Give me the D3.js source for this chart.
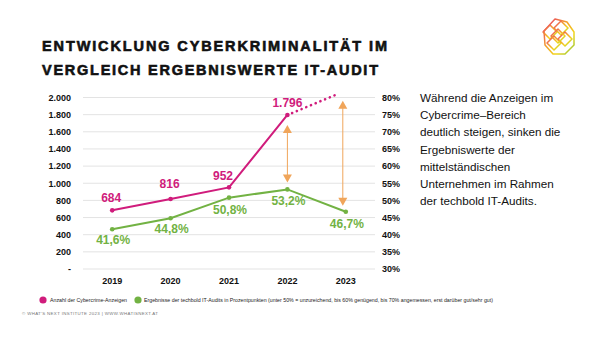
<!DOCTYPE html>
<html><head><meta charset="utf-8">
<script src="https://cdn.jsdelivr.net/npm/d3@7"></script>
<style>body{margin:0;background:#fff}svg{display:block;font-family:"Liberation Sans",Arial,sans-serif}</style>
</head><body><svg id="c" width="600" height="338"></svg>
<script>
const years = ["2019","2020","2021","2022","2023"];
const anzeigen = [684, 816, 952, 1796];
const anzeigenProjection = 2080;
const auditPct = [41.6, 44.8, 50.8, 53.2, 46.7];
const leftTicks = [0,200,400,600,800,1000,1200,1400,1600,1800,2000];
const rightTicks = [30,35,40,45,50,55,60,65,70,75,80];
const titleLines = ["ENTWICKLUNG CYBERKRIMINALITÄT IM","VERGLEICH ERGEBNISWERTE IT-AUDIT"];
const sideText = ["Während die Anzeigen im","Cybercrime–Bereich","deutlich steigen, sinken die","Ergebniswerte der","mittelständischen","Unternehmen im Rahmen","der techbold IT-Audits."];
const legendItems = ["Anzahl der Cybercrime-Anzeigen","Ergebnisse der techbold IT-Audits in Prozentpunkten (unter 50% = unzureichend, bis 60% genügend, bis 70% angemessen, erst darüber gut/sehr gut)"];
const footer = "© WHAT'S NEXT INSTITUTE 2023 | WWW.WHATISNEXT.AT";

const PINK="#d01c7c", GREEN="#72b243", ORANGE="#f0a55a";
const svg=d3.select("#c");
const loc=d3.formatLocale({decimal:",",thousands:".",grouping:[3],currency:["","€"]});
const fmtN=v=>v===0?"-":loc.format(",")(v);
const fmtP=loc.format(".1f");

const x=d3.scaleBand().domain(years).range([83,375]);
const xc=d=>x(d)+x.bandwidth()/2;
const yL=d3.scaleLinear().domain([0,2000]).range([269,97.5]);
const yR=d3.scaleLinear().domain([30,80]).range([269,97.5]);

// title
svg.append("g").selectAll("text").data(titleLines).join("text")
 .attr("x",42).attr("y",(d,i)=>51+i*23.5)
 .attr("textLength",(d,i)=>i?336:345).attr("lengthAdjust","spacing")
 .attr("font-size",14.5).attr("font-weight","bold").attr("fill","#111")
 .attr("stroke","#111").attr("stroke-width",0.6).text(d=>d);

// logo
const defs=svg.append("defs");
const gr=defs.append("linearGradient").attr("id","lg").attr("x1","0").attr("y1","0").attr("x2","1").attr("y2","1");
[["0","#e8337a"],["0.4","#f39a2b"],["0.7","#f2d51c"],["1","#8cc63f"]].forEach(s=>gr.append("stop").attr("offset",s[0]).attr("stop-color",s[1]));
const logo=svg.append("g").attr("transform","translate(559,37)").attr("fill","none").attr("stroke","url(#lg)").attr("stroke-width",1.5).attr("stroke-linejoin","round");
logo.append("path").attr("d","M-4,-18L8,-15L15,-5L15,8L6,17L-6,17L-14,8L-15,-6Z");
[[-9,-5],[2,-9],[-5,6],[6,2],[-1,-1]].forEach(p=>{
  logo.append("path").attr("d",`M${p[0]},${p[1]-7}L${p[0]+7},${p[1]}L${p[0]},${p[1]+7}L${p[0]-7},${p[1]}Z`);
});

// grid
svg.append("g").selectAll("line").data(leftTicks).join("line")
 .attr("x1",83).attr("x2",375).attr("y1",d=>yL(d)).attr("y2",d=>yL(d))
 .attr("stroke","#e3e3e3").attr("stroke-width",1);

// axes
const axL=svg.append("g").attr("transform","translate(71,0)")
 .call(d3.axisLeft(yL).tickValues(leftTicks).tickFormat(fmtN).tickSize(0).tickPadding(0));
const axR=svg.append("g").attr("transform","translate(382,0)")
 .call(d3.axisRight(yR).tickValues(rightTicks).tickFormat(d=>d+"%").tickSize(0).tickPadding(0));
const axX=svg.append("g").attr("transform","translate(0,276)")
 .call(d3.axisBottom(x).tickSize(0).tickPadding(0));
[axL,axR,axX].forEach(a=>{a.select(".domain").remove();
 a.selectAll("text").attr("font-family","Liberation Sans, Arial").attr("font-weight","bold").attr("font-size",9).attr("fill","#111");});
axX.selectAll("text").attr("dy","0.9em");

// lines
const lineL=d3.line().x((d,i)=>xc(years[i])).y(d=>yL(d));
const lineR=d3.line().x((d,i)=>xc(years[i])).y(d=>yR(d));
svg.append("path").attr("d",lineR(auditPct)).attr("fill","none").attr("stroke",GREEN).attr("stroke-width",2);
svg.append("path").attr("d",lineL(anzeigen)).attr("fill","none").attr("stroke",PINK).attr("stroke-width",2);
// projection dotted
const p0=[xc("2022"),yL(anzeigen[3])], p1=[xc("2023"),yL(anzeigenProjection)];
const t=0.88;
svg.append("path").attr("d",d3.line()([p0,[p0[0]+(p1[0]-p0[0])*t,p0[1]+(p1[1]-p0[1])*t]]))
 .attr("fill","none").attr("stroke",PINK).attr("stroke-width",2.6).attr("stroke-dasharray","0.1,5").attr("stroke-linecap","round");
svg.append("g").selectAll("circle").data(auditPct).join("circle")
 .attr("cx",(d,i)=>xc(years[i])).attr("cy",d=>yR(d)).attr("r",2.3).attr("fill",GREEN);
svg.append("g").selectAll("circle").data(anzeigen).join("circle")
 .attr("cx",(d,i)=>xc(years[i])).attr("cy",d=>yL(d)).attr("r",2.3).attr("fill",PINK);

// value labels
const pinkOff=[[-1,-8],[-1,-11],[-6,-7],[0,-8]];
svg.append("g").selectAll("text").data(anzeigen).join("text")
 .attr("x",(d,i)=>xc(years[i])+pinkOff[i][0]).attr("y",(d,i)=>yL(d)+pinkOff[i][1])
 .attr("text-anchor","middle").attr("font-size",12).attr("font-weight","bold").attr("fill",PINK).text(fmtN);
const greenOff=[[1,15],[1,15],[1,16],[1,16],[1,16]];
svg.append("g").selectAll("text").data(auditPct).join("text")
 .attr("x",(d,i)=>xc(years[i])+greenOff[i][0]).attr("y",(d,i)=>yR(d)+greenOff[i][1])
 .attr("text-anchor","middle").attr("font-size",12).attr("font-weight","bold").attr("fill",GREEN).text(d=>fmtP(d)+"%");

// arrows
function arrow(xp,yt,yb){
  const g=svg.append("g");
  g.append("line").attr("x1",xp).attr("x2",xp).attr("y1",yt+6).attr("y2",yb-6).attr("stroke",ORANGE).attr("stroke-width",1);
  g.append("path").attr("d",`M${xp},${yt}L${xp-4.5},${yt+8}L${xp+4.5},${yt+8}Z`).attr("fill",ORANGE);
  g.append("path").attr("d",`M${xp},${yb}L${xp-4.5},${yb-8}L${xp+4.5},${yb-8}Z`).attr("fill",ORANGE);
}
arrow(xc("2022"),yL(anzeigen[3])+10,yR(auditPct[3])-7);
arrow(xc("2023")-3,yL(anzeigenProjection)+10,yR(auditPct[4])-6);

// side text
svg.append("g").selectAll("text").data(sideText).join("text")
 .attr("x",420).attr("y",(d,i)=>102+i*17.2).attr("font-size",11.7).attr("fill","#111").text(d=>d);

// legend
const lg=svg.append("g");
[[43,PINK,50,77],[138,GREEN,144,349]].forEach((c,i)=>{
  lg.append("circle").attr("cx",c[0]).attr("cy",300).attr("r",3.6).attr("fill",c[1]);
  lg.append("text").attr("x",c[2]).attr("y",302.2).attr("font-size",5.6).attr("textLength",c[3]).attr("lengthAdjust","spacingAndGlyphs").attr("fill","#222").text(legendItems[i]);
});
svg.append("text").attr("x",22).attr("y",315).attr("font-size",4.4).attr("textLength",136).attr("lengthAdjust","spacing").attr("fill","#777").text(footer);
</script></body></html>
